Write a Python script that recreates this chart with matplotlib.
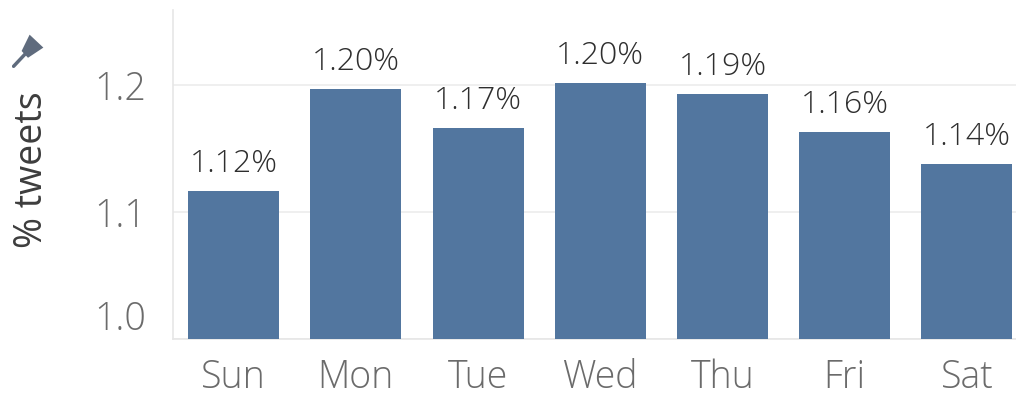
import matplotlib
matplotlib.use("Agg")
import matplotlib.pyplot as plt
from matplotlib.path import Path
from matplotlib.patches import PathPatch

days = ["Sun", "Mon", "Tue", "Wed", "Thu", "Fri", "Sat"]
pct_tweets = [1.1165, 1.197, 1.166, 1.2015, 1.193, 1.163, 1.138]
y_ticks = [1.0, 1.1, 1.2]
y_tick_labels = ["1.0", "1.1", "1.2"]

plt.rcParams['font.family'] = ['Open Sans', 'DejaVu Sans']
plt.rcParams['font.weight'] = 300

W, H = 1016, 395
fig = plt.figure(figsize=(W / 100, H / 100), dpi=100)
ax = fig.add_axes([172.5 / W, 56 / H, (1028 - 172.5) / W, (339 - 10) / H])

bar_color = "#52769f"
x = list(range(len(days)))
ax.bar(x, [v - 1.0 for v in pct_tweets], bottom=1.0, width=0.745,
       color=bar_color, zorder=3)

for xi, v in zip(x, pct_tweets):
    ax.text(xi, v + 0.0085, f"{v:.2f}%", ha="center", va="bottom",
            fontsize=23, color="#2e2e2e", zorder=4)

ax.set_xlim(-0.5, 6.5)
ax.set_ylim(1.0, 1.259)
ax.set_yticks(y_ticks)
ax.set_yticklabels(y_tick_labels)
ax.set_xticks(x)
ax.set_xticklabels(days)

ax.tick_params(axis="y", length=0, pad=19, labelsize=27, labelcolor="#6b6b6b")
ax.tick_params(axis="x", length=0, pad=14, labelsize=27, labelcolor="#6b6b6b")

lbl0 = ax.get_yticklabels()[0]
lbl0.set_verticalalignment("bottom")

ax.grid(axis="y", color="#ececec", linewidth=1.2, zorder=0)
ax.grid(axis="x", visible=False)
for s in ["top", "right"]:
    ax.spines[s].set_visible(False)
ax.spines["left"].set_color("#e6e6e6")
ax.spines["left"].set_linewidth(1.2)
ax.spines["bottom"].set_color("#e6e6e6")
ax.spines["bottom"].set_linewidth(1.2)

fig.text(32 / W, 1 - 170 / H, "% tweets", rotation=90, ha="center", va="center",
         fontsize=27, color="#3d3d3d", fontweight="normal")

# pin icon above the y label
pin_ax = fig.add_axes([12 / W, 1 - 68 / H, 32 / W, 34 / H])
pin_ax.set_xlim(0, 10)
pin_ax.set_ylim(0, 10)
pin_ax.axis("off")
verts = [(3.0, 5.0), (5.5, 9.8), (9.8, 6.0), (5.0, 3.0), (3.0, 5.0)]
pin_ax.add_patch(PathPatch(Path(verts, [Path.MOVETO] + [Path.LINETO] * 3 + [Path.CLOSEPOLY]),
                           facecolor="#5f6b7d", edgecolor="none"))
pin_ax.plot([4.5, 0.5], [4.5, 0.5], color="#5f6b7d", lw=2.5, solid_capstyle="round")

fig.savefig("out.png", dpi=100, facecolor="white")
